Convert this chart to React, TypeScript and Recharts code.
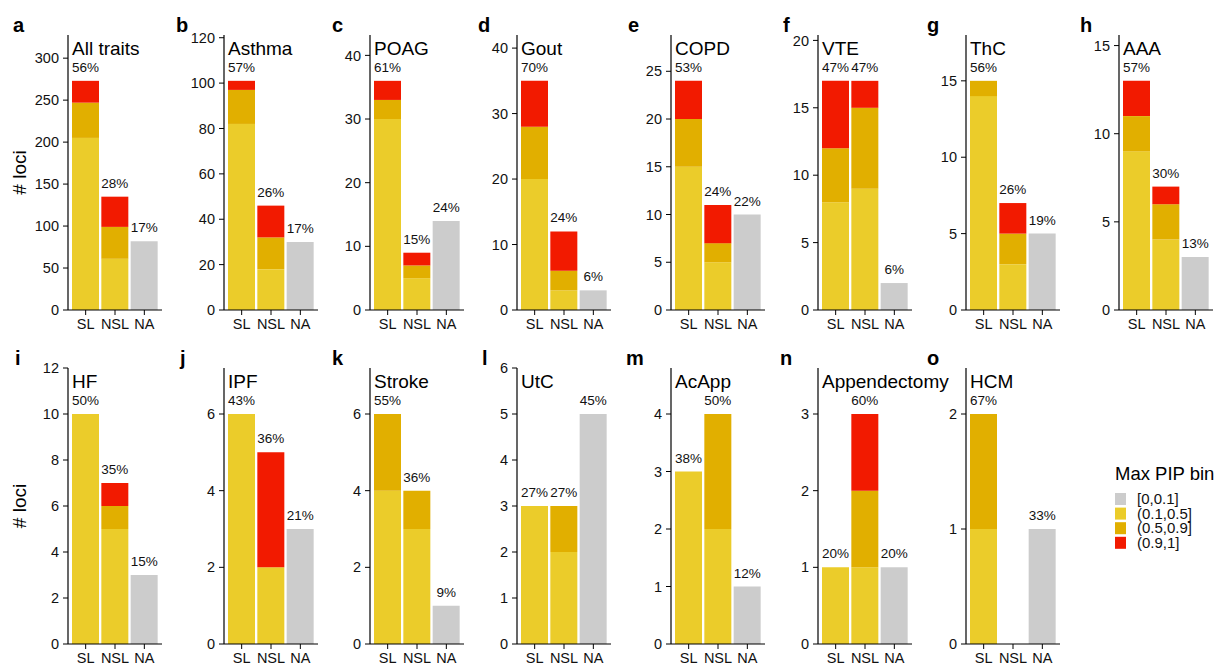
import React from 'react';
import { BarChart, Bar, XAxis, YAxis, LabelList } from 'recharts';

const FONT = '"Liberation Sans", Arial, Helvetica, sans-serif';

const categories = ['SL', 'NSL', 'NA'];
const traits = [
  'All traits', 'Asthma', 'POAG', 'Gout', 'COPD', 'VTE', 'ThC', 'AAA',
  'HF', 'IPF', 'Stroke', 'UtC', 'AcApp', 'Appendectomy', 'HCM',
];
const panelLetters = ['a', 'b', 'c', 'd', 'e', 'f', 'g', 'h', 'i', 'j', 'k', 'l', 'm', 'n', 'o'];
const bins = ['[0,0.1]', '(0.1,0.5]', '(0.5,0.9]', '(0.9,1]'];
const binColors = ['#CCCCCC', '#EBCC2A', '#E1AF00', '#F21A00'];
const binKeys = ['low', 'mid', 'high', 'top'];

// loci counts per panel, in order SL, NSL, NA
const lowPip = [
  [0, 0, 82], [0, 0, 30], [0, 0, 14], [0, 0, 3], [0, 0, 10], [0, 0, 2], [0, 0, 5], [0, 0, 3],
  [0, 0, 3], [0, 0, 3], [0, 0, 1], [0, 0, 5], [0, 0, 1], [0, 0, 1], [0, 0, 1],
];
const midPip = [
  [205, 61, 0], [82, 18, 0], [30, 5, 0], [20, 3, 0], [15, 5, 0], [8, 9, 0], [14, 3, 0], [9, 4, 0],
  [10, 5, 0], [6, 2, 0], [4, 3, 0], [3, 2, 0], [3, 2, 0], [1, 1, 0], [1, 0, 0],
];
const highPip = [
  [42, 38, 0], [15, 14, 0], [3, 2, 0], [8, 3, 0], [5, 2, 0], [4, 6, 0], [1, 2, 0], [2, 2, 0],
  [0, 1, 0], [0, 0, 0], [2, 1, 0], [0, 1, 0], [0, 2, 0], [0, 1, 0], [1, 0, 0],
];
const topPip = [
  [26, 36, 0], [4, 14, 0], [3, 2, 0], [7, 6, 0], [4, 4, 0], [5, 2, 0], [0, 2, 0], [2, 1, 0],
  [0, 1, 0], [0, 3, 0], [0, 0, 0], [0, 0, 0], [0, 0, 0], [0, 1, 0], [0, 0, 0],
];
const pctLabels = [
  ['56%', '28%', '17%'], ['57%', '26%', '17%'], ['61%', '15%', '24%'], ['70%', '24%', '6%'],
  ['53%', '24%', '22%'], ['47%', '47%', '6%'], ['56%', '26%', '19%'], ['57%', '30%', '13%'],
  ['50%', '35%', '15%'], ['43%', '36%', '21%'], ['55%', '36%', '9%'], ['27%', '27%', '45%'],
  ['38%', '50%', '12%'], ['20%', '60%', '20%'], ['67%', '', '33%'],
];
const yTicks = [
  [0, 50, 100, 150, 200, 250, 300], [0, 20, 40, 60, 80, 100, 120], [0, 10, 20, 30, 40], [0, 10, 20, 30, 40],
  [0, 5, 10, 15, 20, 25], [0, 5, 10, 15, 20], [0, 5, 10, 15], [0, 5, 10, 15],
  [0, 2, 4, 6, 8, 10, 12], [0, 2, 4, 6], [0, 2, 4, 6], [0, 1, 2, 3, 4, 5, 6],
  [0, 1, 2, 3, 4], [0, 1, 2, 3], [0, 1, 2],
];

// layout
const axisXs = [68, 224, 370, 517, 671, 818, 966, 1119];
const letterXs = [[13, 176, 332, 478, 628, 783, 927, 1080], [15, 180, 332, 482, 626, 780, 927]];
const rowTops = [35, 368];
const rowHeights = [275, 276];
const PLOT_W = 94;
const Y_W = 40;
const M_TOP = 14;
const X_H = 28;
const TEXT = '#111';

// label only drawn on the highest non-empty segment of each bar
const makePctLabel = (key: string, data: any[]) => (props: any) => {
  const d = data.find((row) => row.cat === props.value);
  if (!d || !d.pct) return null;
  const topKey = [...binKeys].reverse().find((k) => d[k] > 0);
  if (topKey !== key) return null;
  const vb = props.viewBox || props;
  return (
    <text
      x={vb.x + vb.width / 2}
      y={vb.y - 9}
      textAnchor="middle"
      fill={TEXT}
      fontSize={13.5}
      fontFamily={FONT}
    >
      {d.pct}
    </text>
  );
};

const Panel = ({ idx }: { idx: number }) => {
  const row = idx < 8 ? 0 : 1;
  const col = idx < 8 ? idx : idx - 8;
  const data = categories.map((c, i) => ({
    cat: c,
    low: lowPip[idx][i],
    mid: midPip[idx][i],
    high: highPip[idx][i],
    top: topPip[idx][i],
    pct: pctLabels[idx][i],
  }));
  const maxTotal = Math.max(...data.map((d) => d.low + d.mid + d.high + d.top));
  const yMax = maxTotal * 1.2;
  const plotH = rowHeights[row];
  const tick = { fill: TEXT, fontSize: 14.5, fontFamily: FONT };
  return (
    <div style={{ position: 'absolute', left: axisXs[col] - Y_W, top: rowTops[row] - M_TOP }}>
      <BarChart
        width={Y_W + PLOT_W + 4}
        height={M_TOP + plotH + X_H}
        data={data}
        margin={{ top: M_TOP, right: 4, bottom: 0, left: 0 }}
        barCategoryGap={1}
      >
        <XAxis
          dataKey="cat"
          height={X_H}
          padding={{ left: 3, right: 3 }}
          interval={0}
          axisLine={{ stroke: '#000', strokeWidth: 1.2 }}
          tickLine={{ stroke: '#000', strokeWidth: 1 }}
          tickSize={5}
          tickMargin={4}
          tick={tick}
        />
        <YAxis
          type="number"
          width={Y_W}
          domain={[0, yMax]}
          allowDataOverflow
          ticks={yTicks[idx]}
          interval={0}
          axisLine={{ stroke: '#000', strokeWidth: 1.2 }}
          tickLine={{ stroke: '#000', strokeWidth: 1 }}
          tickSize={5}
          tickMargin={4}
          tick={tick}
        />
        {binKeys.map((k, i) => (
          <Bar key={k} dataKey={k} stackId="s" fill={binColors[i]} isAnimationActive={false}>
            <LabelList dataKey="cat" content={makePctLabel(k, data)} />
          </Bar>
        ))}
      </BarChart>
    </div>
  );
};

export default function App() {
  return (
    <div style={{ position: 'absolute', left: 0, top: 0, width: 1217, height: 665, background: '#fff', fontFamily: FONT }}>
      {traits.map((_, i) => (
        <Panel key={i} idx={i} />
      ))}
      <svg width={1217} height={665} style={{ position: 'absolute', left: 0, top: 0, pointerEvents: 'none' }}>
        {traits.map((t, i) => {
          const row = i < 8 ? 0 : 1;
          const col = i < 8 ? i : i - 8;
          return (
            <g key={t}>
              <text x={letterXs[row][col]} y={row === 0 ? 32 : 365} fontSize={20} fontWeight="bold" fill="#000" fontFamily={FONT}>
                {panelLetters[i]}
              </text>
              <text x={axisXs[col] + 4} y={rowTops[row] + 19.5} fontSize={19} fill="#000" fontFamily={FONT}>
                {t}
              </text>
            </g>
          );
        })}
        {rowTops.map((top, r) => (
          <text
            key={r}
            transform={`translate(26, ${top + rowHeights[r] / 2}) rotate(-90)`}
            textAnchor="middle"
            fontSize={19}
            fill="#000"
            fontFamily={FONT}
          >
            # loci
          </text>
        ))}
        <text x={1115} y={480} fontSize={18.5} fill="#000" fontFamily={FONT}>
          Max PIP bin
        </text>
        {bins.map((b, i) => (
          <g key={b}>
            <rect x={1115} y={493 + i * 14.6} width={11} height={12} fill={binColors[i]} />
            <text x={1137} y={504 + i * 14.6} fontSize={15} fill={TEXT} fontFamily={FONT}>
              {b}
            </text>
          </g>
        ))}
      </svg>
    </div>
  );
}
